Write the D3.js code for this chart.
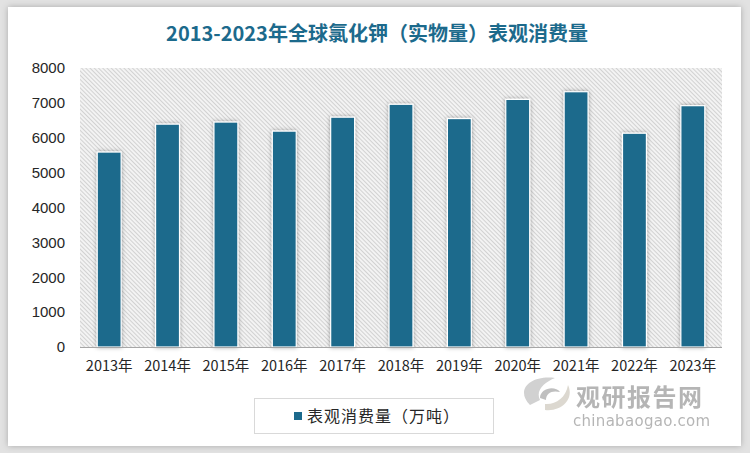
<!DOCTYPE html>
<html><head><meta charset="utf-8">
<script src="https://cdn.jsdelivr.net/npm/d3@7"></script>
<style>
html,body{margin:0;padding:0;background:#e4e4e4;}
svg{display:block;}
</style></head>
<body><svg id="chart" width="750" height="453"></svg>
<script>
const title = "2013-2023年全球氯化钾（实物量）表观消费量";
const categories = ["2013年","2014年","2015年","2016年","2017年","2018年","2019年","2020年","2021年","2022年","2023年"];
const values = [5590, 6390, 6450, 6190, 6590, 6960, 6550, 7100, 7320, 6130, 6920];
const yTicks = [0,1000,2000,3000,4000,5000,6000,7000,8000];
const seriesName = "表观消费量（万吨）";

const svg = d3.select("#chart");
const defs = svg.append("defs");

const cardShadow = defs.append("filter").attr("id","cardShadow").attr("x","-5%").attr("y","-5%").attr("width","110%").attr("height","110%");
cardShadow.append("feDropShadow").attr("dx",0).attr("dy",0).attr("stdDeviation",3).attr("flood-color","#000").attr("flood-opacity",0.25);

const barShadow = defs.append("filter").attr("id","barShadow").attr("x","-40%").attr("y","-10%").attr("width","180%").attr("height","120%");
barShadow.append("feDropShadow").attr("dx",0).attr("dy",0).attr("stdDeviation",2.2).attr("flood-color","#000").attr("flood-opacity",0.35);

const hatch = defs.append("pattern").attr("id","hatch").attr("patternUnits","userSpaceOnUse")
  .attr("width",3).attr("height",3).attr("patternTransform","rotate(-45)");
hatch.append("rect").attr("width",3).attr("height",3).attr("fill","#f3f3f3");
hatch.append("line").attr("x1",0.5).attr("y1",0).attr("x2",0.5).attr("y2",3).attr("stroke","#d2d2d2").attr("stroke-width",1);

// background frame
svg.append("rect").attr("width",750).attr("height",453).attr("fill","#e2e2e2");
svg.append("rect").attr("x",8).attr("y",7).attr("width",733).attr("height",439).attr("fill","#fff").attr("filter","url(#cardShadow)");

// title
svg.append("text").attr("x",377).attr("y",41).attr("text-anchor","middle")
  .attr("font-family","'Noto Sans CJK SC', sans-serif").attr("font-weight","bold").attr("font-size",20)
  .attr("fill","#1c6a8c").text(title);

const x = d3.scaleBand().domain(categories).range([80,722]).paddingInner(0.59).paddingOuter(0.295);
const y = d3.scaleLinear().domain([0,8000]).range([347,68]);

// plot area
svg.append("rect").attr("x",80).attr("y",y(8000)).attr("width",642).attr("height",y(0)-y(8000)).attr("fill","url(#hatch)");

// bars
svg.append("g").selectAll("rect").data(values).join("rect")
  .attr("x",(d,i)=>x(categories[i]))
  .attr("y",d=>y(d))
  .attr("width",x.bandwidth())
  .attr("height",d=>y(0)-y(d))
  .attr("fill","#1c6a8c")
  .attr("stroke","#ffffff").attr("stroke-width",1.2)
  .attr("filter","url(#barShadow)");

// baseline
svg.append("line").attr("x1",80).attr("x2",722).attr("y1",y(0)+0.5).attr("y2",y(0)+0.5).attr("stroke","#a6a6a6").attr("stroke-width",1);

// y axis
const yAxis = d3.axisLeft(y).tickValues(yTicks).tickSize(0).tickPadding(0).tickFormat(d3.format("d"));
const yg = svg.append("g").attr("transform","translate(65,0)").call(yAxis);
yg.select(".domain").remove();
yg.selectAll("text").attr("font-family","'Liberation Sans', Arial, sans-serif").attr("font-size",15).attr("fill","#262626");

// x axis
const xAxis = d3.axisBottom(x).tickSize(0).tickPadding(0);
const xg = svg.append("g").attr("transform","translate(0,361)").call(xAxis);
xg.select(".domain").remove();
xg.selectAll("text").attr("font-family","'Noto Sans CJK SC', sans-serif").attr("font-size",14.5).attr("fill","#262626");

// legend
const lg = svg.append("g");
lg.append("rect").attr("x",254.5).attr("y",398.5).attr("width",239).attr("height",35).attr("fill","#fff").attr("stroke","#d9d9d9");
lg.append("rect").attr("x",294).attr("y",412).attr("width",8).attr("height",8).attr("fill","#1c6a8c");
lg.append("text").attr("x",307).attr("y",422).attr("font-family","'Noto Sans CJK SC', sans-serif").attr("font-size",16)
  .attr("letter-spacing",1).attr("fill","#262626").text(seriesName);

// watermark
const wm = svg.append("g").attr("opacity",0.85);
wm.append("path").attr("d","M 530 405 C 515 390, 530 375, 555 378 C 545 382, 535 390, 540 400 Z").attr("fill","#c9c9c9");
wm.append("path").attr("d","M 545 410 C 560 412, 575 400, 568 385 C 566 398, 555 405, 545 404 Z").attr("fill","#d6d2c8");
wm.append("path").attr("d","M 540 398 C 540 388, 555 385, 560 392 C 552 390, 546 393, 546 400 Z").attr("fill","#b5b5b5");
wm.append("text").attr("x",576).attr("y",406).attr("font-family","'Noto Sans CJK SC', sans-serif").attr("font-weight","bold")
  .attr("font-size",24).attr("fill","#a9a9a9").attr("letter-spacing",1.5).text("观研报告网");
wm.append("text").attr("x",573).attr("y",426).attr("font-family","'DejaVu Sans', sans-serif")
  .attr("font-size",15).attr("fill","#a9a9a9").attr("letter-spacing",0.3).text("chinabaogao.com");
</script></body></html>
